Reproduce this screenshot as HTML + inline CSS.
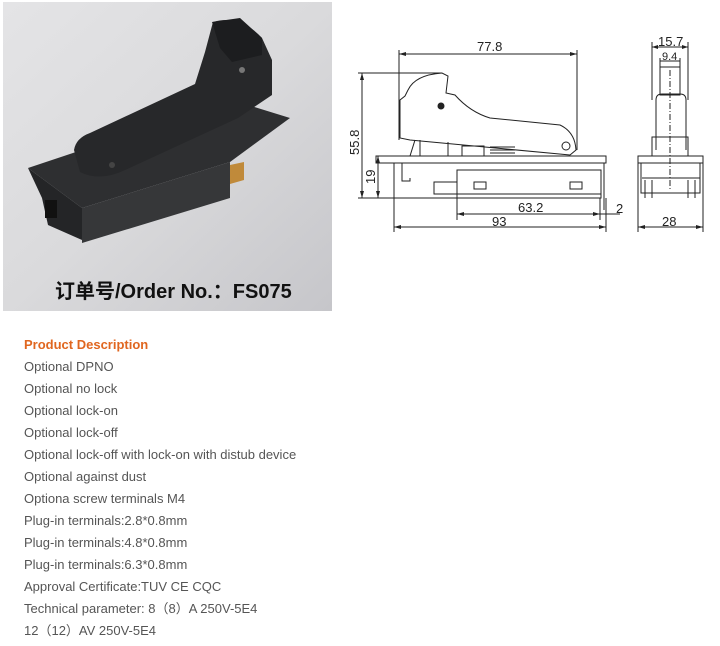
<!DOCTYPE html>
<html><head><meta charset="utf-8"><style>
body{margin:0;width:720px;height:646px;background:#fff;overflow:hidden;position:relative;font-family:"Liberation Sans",Arial,sans-serif}
.t{position:absolute;left:24px;font-size:13px;color:#555;line-height:22px}
</style></head><body>
<svg width="720" height="320" style="position:absolute;left:0;top:0">
<defs><linearGradient id="g" x1="0" y1="0" x2="1" y2="1"><stop offset="0" stop-color="#e4e4e6"/><stop offset="0.5" stop-color="#dadadc"/><stop offset="1" stop-color="#c6c6ca"/></linearGradient></defs>
<rect x="3" y="2" width="329" height="309" fill="url(#g)"/>
<polygon points="28,168 232,100 290,118 230,162 82,208" fill="#2e2f31"/>
<polygon points="28,168 82,208 82,240 48,225 42,198" fill="#242527"/>
<polygon points="82,208 230,162 230,198 82,243" fill="#363739"/>
<rect x="45" y="200" width="12" height="18" fill="#111"/>
<polygon points="230,165 244,162 244,180 230,184" fill="#c08a3a"/>
<path d="M74,150 Q76,138 90,133 L195,84 L205,52 L213,22 Q240,14 262,38 L272,60 L272,95 L238,118 L125,170 Q100,182 80,172 Z" fill="#27282a"/>
<polygon points="212,22 240,18 262,38 262,55 232,62 220,48" fill="#1c1d1f"/>
<circle cx="242" cy="70" r="3" fill="#777"/><circle cx="112" cy="165" r="3" fill="#444"/>
<text x="55" y="298" font-size="20" font-weight="bold" fill="#111" font-family="'Liberation Sans','Noto Sans CJK SC',sans-serif">订单号/Order No.：FS075</text>
<g stroke="#222" stroke-width="1" fill="none">
<line x1="399" y1="54" x2="577" y2="54"/><line x1="399" y1="50" x2="399" y2="140"/><line x1="577" y1="50" x2="577" y2="150"/>
<line x1="362" y1="73" x2="362" y2="198"/><line x1="358" y1="73" x2="442" y2="73"/>
<line x1="378" y1="156" x2="378" y2="198"/><line x1="358" y1="198" x2="458" y2="198"/>
<rect x="376" y="156" width="230" height="7"/>
<polyline points="394,163 394,198"/><polyline points="604,163 604,210"/>
<polyline points="402,163 402,181 410,181 410,178"/>
<rect x="457" y="170" width="144" height="28"/>
<line x1="457" y1="194" x2="601" y2="194"/>
<rect x="474" y="182" width="12" height="7"/><rect x="570" y="182" width="12" height="7"/>
<rect x="434" y="182" width="23" height="12"/>
<path d="M400,138 L400,100 L405,96 L408,90 Q415,75 442,73 L448,76 L446,93 L455,95 Q470,112 490,118 L560,125 Q575,132 576,150 L570,155 L410,140 Z"/>
<circle cx="566" cy="146" r="4"/><circle cx="441" cy="106" r="3" fill="#222"/>
<polyline points="415,140 410,156"/><polyline points="420,140 420,156"/><polyline points="448,142 448,156"/>
<rect x="462" y="146" width="22" height="10"/><path d="M490,150 h25 M490,153 h25 M490,147 h25"/>
<line x1="457" y1="198" x2="457" y2="220"/><line x1="457" y1="214" x2="600" y2="214"/><line x1="600" y1="198" x2="600" y2="220"/>
<line x1="600" y1="214" x2="620" y2="214"/>
<line x1="394" y1="198" x2="394" y2="232"/><line x1="394" y1="227" x2="606" y2="227"/><line x1="606" y1="198" x2="606" y2="232"/>
<line x1="652" y1="47" x2="688" y2="47"/><line x1="652" y1="42" x2="652" y2="100"/><line x1="688" y1="42" x2="688" y2="100"/>
<line x1="660" y1="61" x2="680" y2="61"/><line x1="660" y1="58" x2="660" y2="95"/><line x1="680" y1="58" x2="680" y2="95"/>
<path d="M656,150 L656,100 Q656,94 662,94 L680,94 Q686,94 686,100 L686,150"/>
<rect x="660" y="67" width="20" height="28"/>
<rect x="652" y="137" width="36" height="19"/>
<rect x="638" y="156" width="65" height="7"/>
<path d="M641,163 L641,193 L700,193 L700,163"/>
<path d="M645,180 v18 M652,180 v18 M688,180 v18 M695,180 v18 M642,178 h58"/>
<line x1="670" y1="70" x2="670" y2="190" stroke-dasharray="6,2,1,2"/>
<line x1="638" y1="163" x2="638" y2="232"/><line x1="703" y1="163" x2="703" y2="232"/><line x1="638" y1="227" x2="703" y2="227"/>
</g>
<g fill="#222">
<polygon points="399,54 406,52 406,56"/><polygon points="577,54 570,52 570,56"/>
<polygon points="362,73 360,80 364,80"/><polygon points="362,198 360,191 364,191"/>
<polygon points="378,156 376,163 380,163"/><polygon points="378,198 376,191 380,191"/>
<polygon points="457,214 464,212 464,216"/><polygon points="600,214 593,212 593,216"/>
<polygon points="394,227 401,225 401,229"/><polygon points="606,227 599,225 599,229"/>
<polygon points="638,227 645,225 645,229"/><polygon points="703,227 696,225 696,229"/>
<polygon points="652,47 658,45 658,49"/><polygon points="688,47 682,45 682,49"/>
</g>
<g font-size="13" fill="#222" font-family="'Liberation Sans',sans-serif">
<text x="477" y="51">77.8</text><text x="518" y="212">63.2</text><text x="492" y="226">93</text>
<text x="616" y="213">2</text><text x="662" y="226">28</text>
<text x="658" y="46">15.7</text><text x="662" y="60" font-size="11">9.4</text>
<text transform="translate(359,155) rotate(-90)">55.8</text>
<text transform="translate(375,184) rotate(-90)">19</text>
</g>
</svg>
<div class="t" style="top:334px;color:#e0661f;font-weight:bold">Product Description</div>
<div class="t" style="top:356px">Optional DPNO</div>
<div class="t" style="top:378px">Optional no lock</div>
<div class="t" style="top:400px">Optional lock-on</div>
<div class="t" style="top:422px">Optional lock-off</div>
<div class="t" style="top:444px">Optional lock-off with lock-on with distub device</div>
<div class="t" style="top:466px">Optional against dust</div>
<div class="t" style="top:488px">Optiona screw terminals M4</div>
<div class="t" style="top:510px">Plug-in terminals:2.8*0.8mm</div>
<div class="t" style="top:532px">Plug-in terminals:4.8*0.8mm</div>
<div class="t" style="top:554px">Plug-in terminals:6.3*0.8mm</div>
<div class="t" style="top:576px">Approval Certificate:TUV CE CQC</div>
<div class="t" style="top:598px;font-family:'Liberation Sans','Noto Sans CJK SC',sans-serif">Technical parameter: 8（8）A 250V-5E4</div>
<div class="t" style="top:620px;font-family:'Liberation Sans','Noto Sans CJK SC',sans-serif">12（12）AV 250V-5E4</div>
</body></html>
